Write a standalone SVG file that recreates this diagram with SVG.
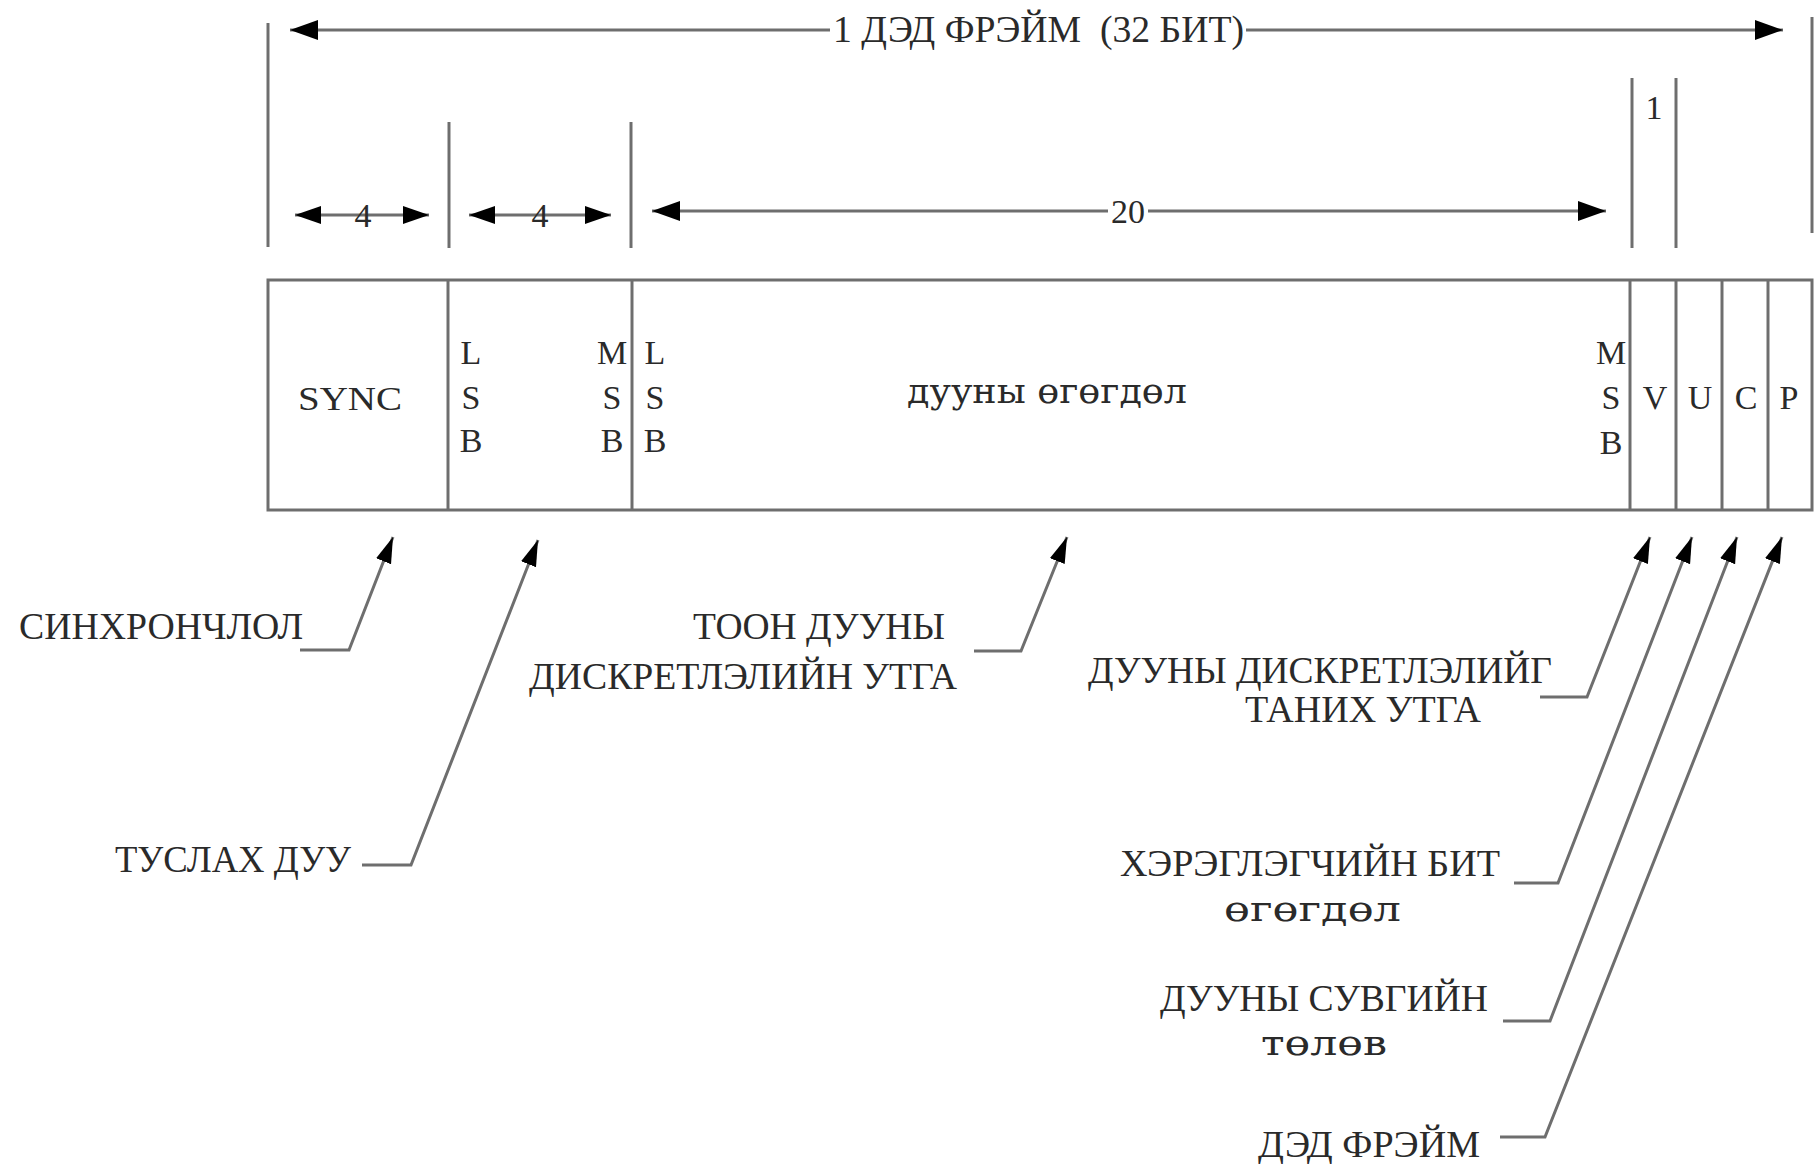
<svg xmlns="http://www.w3.org/2000/svg" width="1819" height="1164" viewBox="0 0 1819 1164">
<style>
.ln{stroke:#6e6e6e;stroke-width:3;fill:none}
.t{font-family:"Liberation Serif","Times New Roman",serif;font-size:37px;fill:#2a2a2a}
.lc{font-family:"DejaVu Serif",serif;font-size:36px;font-weight:normal;fill:#2a2a2a}
.s{font-family:"Liberation Serif","Times New Roman",serif;font-size:34px;fill:#2a2a2a;text-anchor:middle}
</style>
<defs>
<marker id="ah" markerUnits="userSpaceOnUse" markerWidth="30" markerHeight="22" refX="28" refY="10" orient="auto">
<path d="M0,0 L28,10 L0,20 z" fill="#000"/>
</marker>
<marker id="ahs" markerUnits="userSpaceOnUse" markerWidth="30" markerHeight="22" refX="26" refY="9" orient="auto-start-reverse">
<path d="M0,0 L26,9 L0,18 z" fill="#000"/>
</marker>
<marker id="lh" markerUnits="userSpaceOnUse" markerWidth="30" markerHeight="20" refX="26" refY="8" orient="auto">
<path d="M0,0 L26,8 L0,16 z" fill="#000"/>
</marker>
</defs>
<rect width="1819" height="1164" fill="#fff"/>
<g id="dimensions">
<line class="ln" x1="268" y1="23" x2="268" y2="247"/>
<line class="ln" x1="1812" y1="17" x2="1812" y2="233"/>
<line class="ln" x1="449" y1="122" x2="449" y2="248"/>
<line class="ln" x1="631" y1="122" x2="631" y2="248"/>
<line class="ln" x1="1632" y1="78" x2="1632" y2="248"/>
<line class="ln" x1="1676" y1="78" x2="1676" y2="248"/>
<line class="ln" x1="830" y1="30" x2="290" y2="30" marker-end="url(#ah)"/>
<line class="ln" x1="1246" y1="30" x2="1783" y2="30" marker-end="url(#ah)"/>
<text class="t" x="833" y="42" textLength="411" lengthAdjust="spacingAndGlyphs" xml:space="preserve">1 ДЭД ФРЭЙМ  (32 БИТ)</text>
<line class="ln" x1="295" y1="215" x2="429" y2="215" marker-start="url(#ahs)" marker-end="url(#ahs)"/>
<text class="s" x="363" y="227">4</text>
<line class="ln" x1="469" y1="215" x2="611" y2="215" marker-start="url(#ahs)" marker-end="url(#ahs)"/>
<text class="s" x="540" y="227">4</text>
<line class="ln" x1="1108" y1="211" x2="652" y2="211" marker-end="url(#ah)"/>
<line class="ln" x1="1148" y1="211" x2="1606" y2="211" marker-end="url(#ah)"/>
<text class="s" x="1128" y="223">20</text>
<text class="s" x="1654" y="119">1</text>
</g>
<g id="frame">
<rect class="ln" x="268" y="280" width="1544" height="230"/>
<line class="ln" x1="448" y1="280" x2="448" y2="510"/>
<line class="ln" x1="632" y1="280" x2="632" y2="510"/>
<line class="ln" x1="1630" y1="280" x2="1630" y2="510"/>
<line class="ln" x1="1676" y1="280" x2="1676" y2="510"/>
<line class="ln" x1="1722" y1="280" x2="1722" y2="510"/>
<line class="ln" x1="1768" y1="280" x2="1768" y2="510"/>
</g>
<g id="field-sync"><text class="s" x="350" y="410" textLength="104" lengthAdjust="spacingAndGlyphs">SYNC</text></g>
<g id="field-aux">
<text class="s" x="471" y="364">L</text><text class="s" x="471" y="409">S</text><text class="s" x="471" y="452">B</text>
<text class="s" x="612" y="364">M</text><text class="s" x="612" y="409">S</text><text class="s" x="612" y="452">B</text>
</g>
<g id="field-audio">
<text class="s" x="655" y="364">L</text><text class="s" x="655" y="409">S</text><text class="s" x="655" y="452">B</text>
<text class="lc" x="907" y="403" textLength="280" lengthAdjust="spacingAndGlyphs">дууны өгөгдөл</text>
<text class="s" x="1611" y="364">M</text><text class="s" x="1611" y="409">S</text><text class="s" x="1611" y="454">B</text>
</g>
<g id="field-v"><text class="s" x="1655" y="409">V</text></g>
<g id="field-u"><text class="s" x="1700" y="409">U</text></g>
<g id="field-c"><text class="s" x="1746" y="409">C</text></g>
<g id="field-p"><text class="s" x="1789" y="409">P</text></g>
<g id="connectors">
<polyline class="ln" points="300,650 349,650 393,537" marker-end="url(#lh)"/>
<polyline class="ln" points="362,865 411,865 538,540" marker-end="url(#lh)"/>
<polyline class="ln" points="974,651 1021,651 1067,537" marker-end="url(#lh)"/>
<polyline class="ln" points="1540,697 1587,697 1650,537" marker-end="url(#lh)"/>
<polyline class="ln" points="1514,883 1558,883 1692,537" marker-end="url(#lh)"/>
<polyline class="ln" points="1503,1021 1550,1021 1737,537" marker-end="url(#lh)"/>
<polyline class="ln" points="1500,1137 1545,1137 1782,537" marker-end="url(#lh)"/>
</g>
<g id="label-sync"><text class="t" x="19" y="639" textLength="284" lengthAdjust="spacingAndGlyphs">СИНХРОНЧЛОЛ</text></g>
<g id="label-aux"><text class="t" x="115" y="872" textLength="236" lengthAdjust="spacingAndGlyphs">ТУСЛАХ ДУУ</text></g>
<g id="label-sample">
<text class="t" x="693" y="639" textLength="252" lengthAdjust="spacingAndGlyphs">ТООН ДУУНЫ</text>
<text class="t" x="529" y="689" textLength="428" lengthAdjust="spacingAndGlyphs">ДИСКРЕТЛЭЛИЙН УТГА</text>
</g>
<g id="label-validity">
<text class="t" x="1088" y="683" textLength="464" lengthAdjust="spacingAndGlyphs">ДУУНЫ ДИСКРЕТЛЭЛИЙГ</text>
<text class="t" x="1245" y="722" textLength="236" lengthAdjust="spacingAndGlyphs">ТАНИХ УТГА</text>
</g>
<g id="label-user">
<text class="t" x="1120" y="876" textLength="380" lengthAdjust="spacingAndGlyphs">ХЭРЭГЛЭГЧИЙН БИТ</text>
<text class="lc" x="1224" y="921" textLength="177" lengthAdjust="spacingAndGlyphs">өгөгдөл</text>
</g>
<g id="label-channel">
<text class="t" x="1160" y="1011" textLength="328" lengthAdjust="spacingAndGlyphs">ДУУНЫ СУВГИЙН</text>
<text class="lc" x="1261" y="1055" textLength="126" lengthAdjust="spacingAndGlyphs">төлөв</text>
</g>
<g id="label-subframe"><text class="t" x="1258" y="1157" textLength="222" lengthAdjust="spacingAndGlyphs">ДЭД ФРЭЙМ</text></g>
</svg>
